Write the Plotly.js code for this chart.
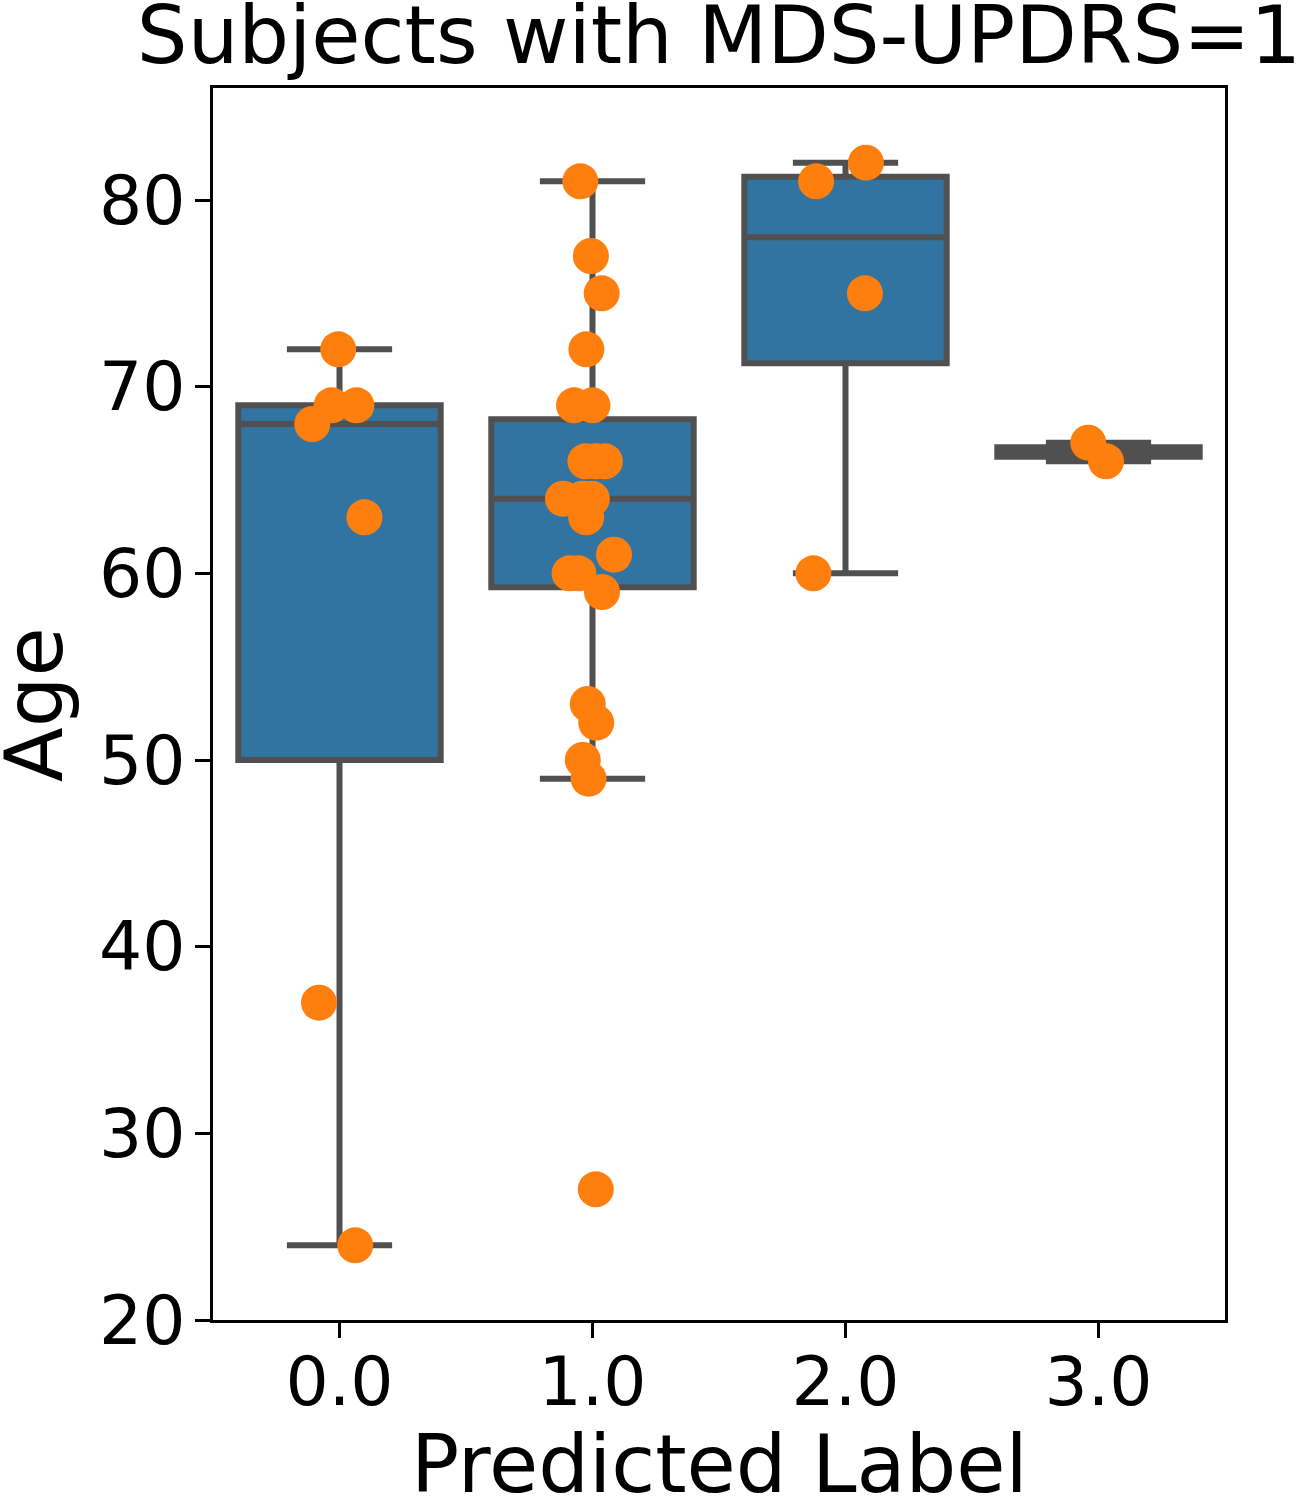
<!DOCTYPE html>
<html>
<head>
<meta charset="utf-8">
<script src="https://cdn.plot.ly/plotly-3.0.1.min.js"></script>
<style>
  body { margin: 0; background: white; }
  #plot-box { width: 1306px; height: 1500px; }
</style>
</head>
<body>
<div id="plot-box"></div>
<script>
// ages per predicted label
const CATEGORIES  = [ 0, 1, 2, 3 ];
const TICK_TEXT   = [ '0.0', '1.0', '2.0', '3.0' ];
const AGES_0      = [ 72, 69, 69, 68, 63, 37, 24 ];
const AGES_1      = [ 81, 77, 75, 72, 69, 69, 66, 66, 66, 64, 64, 64, 63, 61, 60, 60, 59, 53, 52, 50, 49, 27 ];
const AGES_2      = [ 82, 81, 75, 60 ];
const AGES_3      = [ 67, 66 ];
const Y_TICKS     = [ 20, 30, 40, 50, 60, 70, 80 ];

const BOX_COLOR   = '#3274a1';
const LINE_COLOR  = '#505050';
const POINT_COLOR = '#ff7f0e';
const FONT        = 'DejaVu Sans, Liberation Sans, sans-serif';

// numpy-style linear percentile, as seaborn/matplotlib use
function percentile( sorted, p ) {
	let idx  = p * ( sorted.length - 1 );
	let lo   = Math.floor( idx );
	let hi   = Math.ceil( idx );
	let frac = idx - lo;
	return sorted[ lo ] + frac * ( sorted[ hi ] - sorted[ lo ] );
}

function box_stats( vals ) {
	let s   = vals.slice().sort( ( a, b ) => a - b );
	let q1  = percentile( s, 0.25 );
	let med = percentile( s, 0.5 );
	let q3  = percentile( s, 0.75 );
	let iqr = q3 - q1;
	let lo  = Math.min( ...s.filter( v => v >= q1 - 1.5 * iqr ) );
	let hi  = Math.max( ...s.filter( v => v <= q3 + 1.5 * iqr ) );
	return { q1: q1, median: med, q3: q3, lo: lo, hi: hi };
}

const groups = [ AGES_0, AGES_1, AGES_2, AGES_3 ];
const stats  = groups.map( box_stats );

const box_trace = {
	type      : 'box',
	x         : CATEGORIES,
	q1        : stats.map( s => s.q1 ),
	median    : stats.map( s => s.median ),
	q3        : stats.map( s => s.q3 ),
	lowerfence: stats.map( s => s.lo ),
	upperfence: stats.map( s => s.hi ),
	width     : 0.8,
	whiskerwidth: 0.52,
	boxpoints : false,
	fillcolor : BOX_COLOR,
	line      : { color: LINE_COLOR, width: 6 },
	hoverinfo : 'skip',
	showlegend: false
};

let px = [];
let py = [];
groups.forEach( ( g, i ) => {
	g.forEach( v => { px.push( CATEGORIES[ i ] ); py.push( v ); } );
} );

// transparent box only used to jitter the sample points like a stripplot
const point_trace = {
	type      : 'box',
	x         : px,
	y         : py,
	width     : 0.8,
	boxpoints : 'all',
	jitter    : 0.34,
	pointpos  : 0,
	fillcolor : 'rgba(0,0,0,0)',
	line      : { color: 'rgba(0,0,0,0)', width: 0 },
	marker    : { color: POINT_COLOR, size: 36, line: { width: 0 } },
	hoverinfo : 'y',
	showlegend: false
};

const label_font = { family: FONT, size: 80, color: 'black' };

const layout = {
	width        : 1306,
	height       : 1500,
	margin       : { l: 213, r: 81, t: 88, b: 180 },
	paper_bgcolor: 'white',
	plot_bgcolor : 'white',
	boxmode      : 'overlay',
	showlegend   : false,
	font         : { family: FONT, color: 'black', size: 68 },
	title        : {
		text   : 'Subjects with MDS-UPDRS=1',
		font   : label_font,
		xref   : 'paper', x: 0.5, xanchor: 'center',
		yref   : 'container', y: 0.977, yanchor: 'middle'
	},
	xaxis: {
		range     : [ -0.5, 3.5 ],
		tickvals  : CATEGORIES,
		ticktext  : TICK_TEXT,
		ticks     : 'outside', ticklen: 15, tickwidth: 2.5, tickcolor: 'black',
		ticklabelstandoff: -14,
		tickfont  : { family: FONT, size: 68, color: 'black' },
		showline  : true, linecolor: 'black', linewidth: 2.5, mirror: true,
		showgrid  : false, zeroline: false
	},
	yaxis: {
		range     : [ 20, 86 ],
		tickvals  : Y_TICKS,
		ticks     : 'outside', ticklen: 15, tickwidth: 2.5, tickcolor: 'black',
		ticklabelstandoff: -4,
		tickfont  : { family: FONT, size: 68, color: 'black' },
		showline  : true, linecolor: 'black', linewidth: 2.5, mirror: true,
		showgrid  : false, zeroline: false
	},
	// axis titles as annotations so they can sit where matplotlib put them
	annotations: [
		{
			text: 'Predicted Label', font: label_font, showarrow: false,
			xref: 'paper', yref: 'paper', x: 0.5, y: -0.1169,
			xanchor: 'center', yanchor: 'middle'
		},
		{
			text: 'Age', font: label_font, showarrow: false, textangle: -90,
			xref: 'paper', yref: 'paper', x: -0.1769, y: 0.5,
			xanchor: 'center', yanchor: 'middle'
		}
	]
};

Plotly.newPlot( 'plot-box', [ box_trace, point_trace ], layout, { displayModeBar: false } );
</script>
</body>
</html>
